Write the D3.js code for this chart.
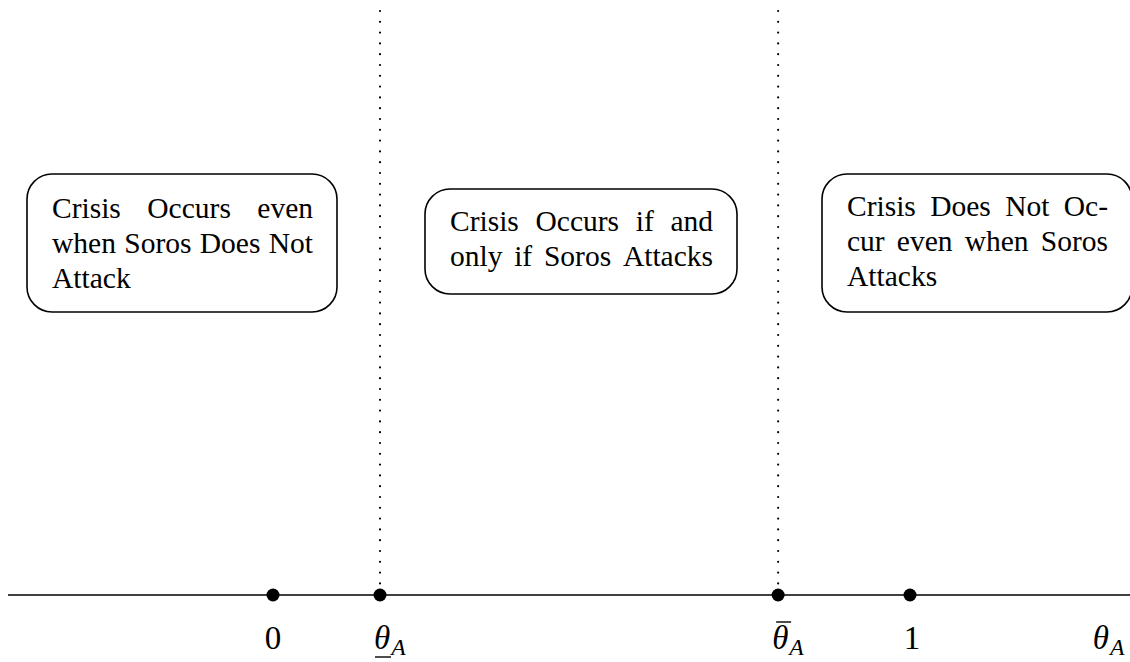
<!DOCTYPE html>
<html>
<head>
<meta charset="utf-8">
<script src="https://cdn.jsdelivr.net/npm/d3@7"></script>
<style>
  body { margin: 0; background: #fff; }
  svg { display: block; }
</style>
</head>
<body>
<div id="chart"></div>
<script>
// Points on the theta_A line (in units of theta)
const pointNames = ["zero", "thetaLow", "thetaHigh", "one"];
const pointValues = [0, 0.168, 0.793, 1];
const thresholdNames = ["thetaLow", "thetaHigh"];

// Region boxes: text lines, and whether each line is justified
const regionLines = [
  ["Crisis Occurs even", "when Soros Does Not", "Attack"],
  ["Crisis Occurs if and", "only if Soros Attacks"],
  ["Crisis Does Not Oc-", "cur even when Soros", "Attacks"]
];
const regionJustify = [
  [true, true, false],
  [true, true],
  [true, true, false]
];

const width = 1130, height = 662;
const serif = "'Liberation Serif', 'Times New Roman', Times, serif";

const svg = d3.select("#chart").append("svg")
  .attr("width", width)
  .attr("height", height)
  .attr("font-family", serif);

// theta scale: 0 -> 273px, 1 -> 910px
const x = d3.scaleLinear().domain([0, 1]).range([273, 910]);
const axisY = 595;

// Dotted threshold lines
thresholdNames.forEach(name => {
  const v = pointValues[pointNames.indexOf(name)];
  svg.append("line")
    .attr("x1", x(v)).attr("x2", x(v))
    .attr("y1", 11).attr("y2", axisY)
    .attr("stroke", "#000")
    .attr("stroke-width", 2.2)
    .attr("stroke-linecap", "round")
    .attr("stroke-dasharray", "0 10.8");
});

// Horizontal axis line
svg.append("line")
  .attr("x1", x(-0.416)).attr("x2", width)
  .attr("y1", axisY).attr("y2", axisY)
  .attr("stroke", "#000")
  .attr("stroke-width", 1.3);

// Points
svg.selectAll("circle.pt")
  .data(pointValues)
  .join("circle")
  .attr("class", "pt")
  .attr("cx", d => x(d))
  .attr("cy", axisY)
  .attr("r", 6.5)
  .attr("fill", "#000");

// Labels under the axis
const labelY = 649;
const fs = 33;

svg.append("text")
  .attr("x", x(0)).attr("y", labelY)
  .attr("text-anchor", "middle")
  .attr("font-size", fs)
  .text("0");

svg.append("text")
  .attr("x", x(1) + 2).attr("y", labelY)
  .attr("text-anchor", "middle")
  .attr("font-size", fs)
  .text("1");

function thetaLabel(xPos, mark) {
  const g = svg.append("g");
  const t = g.append("text")
    .attr("x", xPos).attr("y", labelY)
    .attr("font-size", fs);
  t.append("tspan").attr("font-style", "italic").text("θ");
  t.append("tspan").attr("font-style", "italic")
    .attr("font-size", fs * 0.72).attr("dy", 6).attr("dx", 1).text("A");
  const thW = 16;
  if (mark === "under") {
    g.append("line")
      .attr("x1", xPos + 1).attr("x2", xPos + thW + 1)
      .attr("y1", labelY + 8).attr("y2", labelY + 8)
      .attr("stroke", "#000").attr("stroke-width", 1.4);
  } else if (mark === "bar") {
    g.append("line")
      .attr("x1", xPos + 4).attr("x2", xPos + thW + 3)
      .attr("y1", labelY - 27).attr("y2", labelY - 27)
      .attr("stroke", "#000").attr("stroke-width", 1.4);
  }
}

thetaLabel(x(pointValues[1]) - 6, "under");
thetaLabel(x(pointValues[2]) - 6, "bar");
thetaLabel(x(1.287), null);

// Region boxes
const boxes = [
  { x: 27, y: 174, w: 310, h: 138, firstBase: 218 },
  { x: 425, y: 189, w: 312, h: 105, firstBase: 231 },
  { x: 822, y: 174, w: 310, h: 138, firstBase: 216 }
];
const lineGap = 35;
const boxFs = 29.5;

boxes.forEach((b, i) => {
  svg.append("rect")
    .attr("x", b.x).attr("y", b.y)
    .attr("width", b.w).attr("height", b.h)
    .attr("rx", 25).attr("ry", 25)
    .attr("fill", "none")
    .attr("stroke", "#000")
    .attr("stroke-width", 1.6);

  const left = b.x + 25, right = b.x + b.w - 24;
  regionLines[i].forEach((line, j) => {
    const yPos = b.firstBase + j * lineGap;
    const words = line.split(" ");
    if (!regionJustify[i][j] || words.length < 2) {
      svg.append("text")
        .attr("x", left).attr("y", yPos)
        .attr("font-size", boxFs)
        .text(line);
      return;
    }
    // measure words then spread them across the line width
    const nodes = words.map(w => svg.append("text")
      .attr("y", yPos)
      .attr("font-size", boxFs)
      .text(w));
    const widths = nodes.map(n => n.node().getComputedTextLength());
    const gap = (right - left - d3.sum(widths)) / (words.length - 1);
    let cx = left;
    nodes.forEach((n, k) => {
      n.attr("x", cx);
      cx += widths[k] + gap;
    });
  });
});
</script>
</body>
</html>
